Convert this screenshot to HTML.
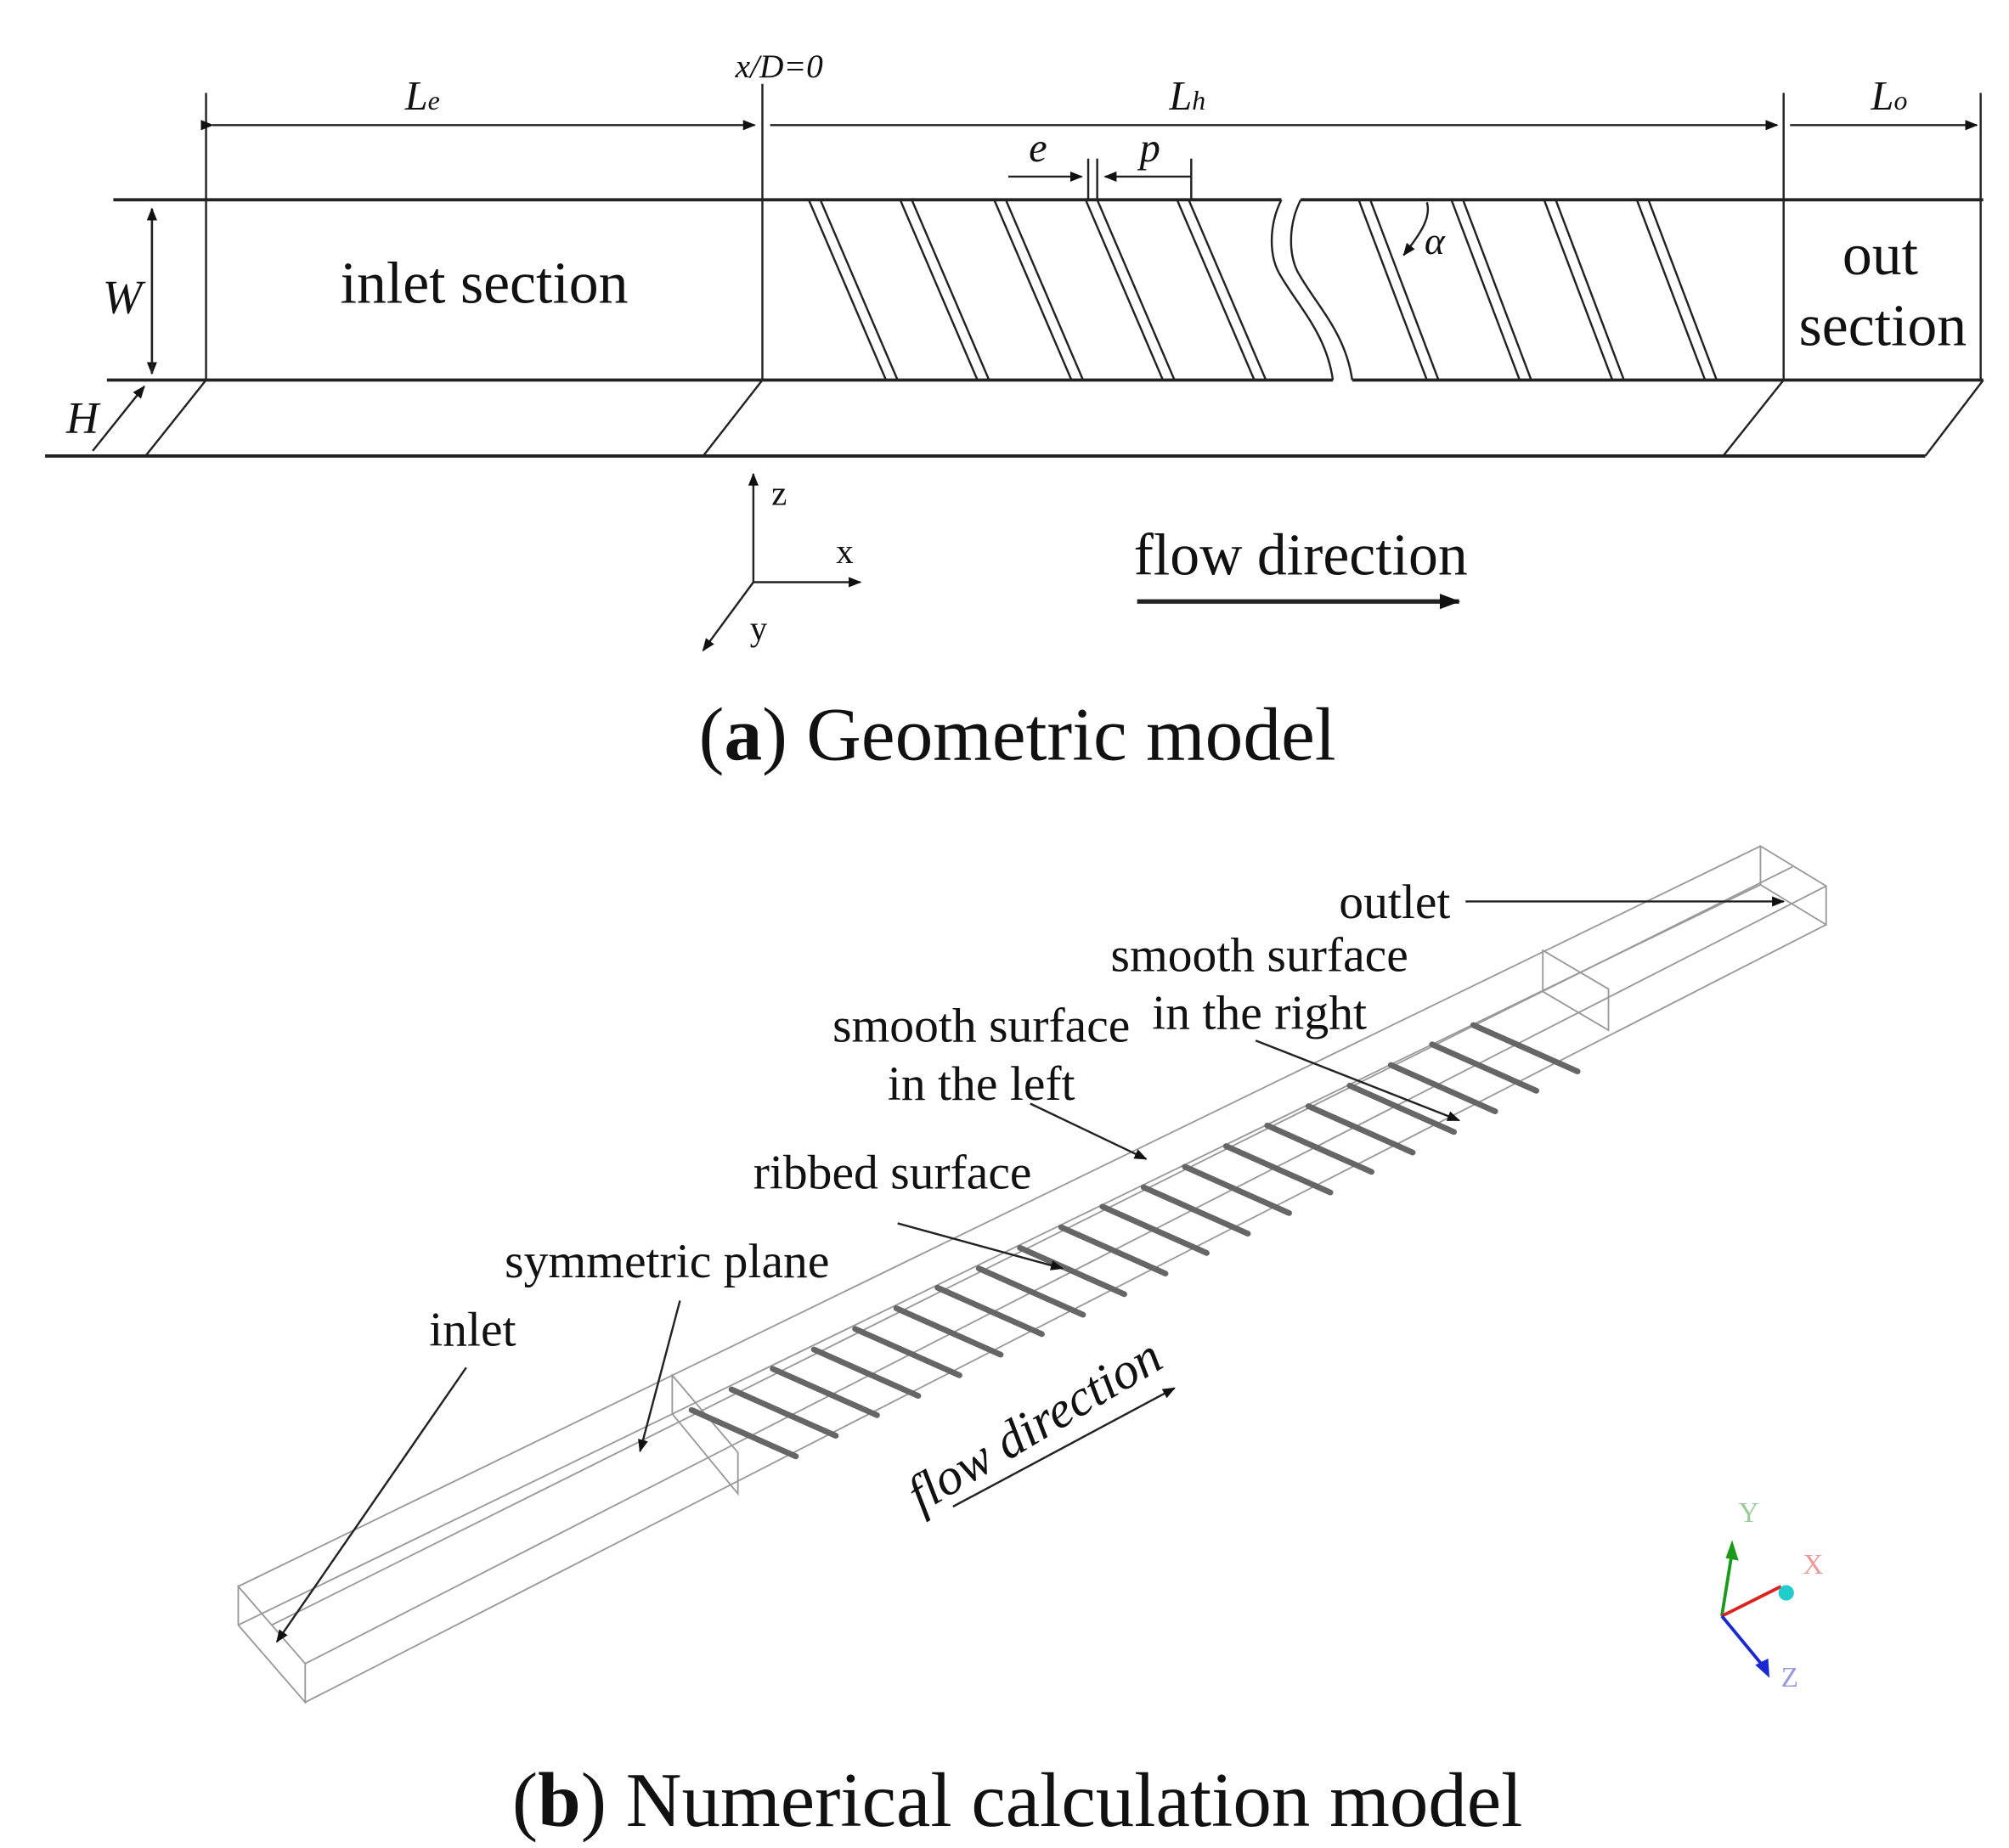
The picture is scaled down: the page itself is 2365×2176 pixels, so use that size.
<!DOCTYPE html>
<html><head><meta charset="utf-8"><style>
html,body{margin:0;padding:0;background:#fff}
svg{display:block}
text{font-family:"Liberation Serif",serif;fill:#111}
</style></head><body>
<svg width="2365" height="2176" viewBox="0 0 1560 1435" xmlns="http://www.w3.org/2000/svg">
<defs>
<marker id="a" markerWidth="10" markerHeight="8" refX="9" refY="4" orient="auto" markerUnits="userSpaceOnUse"><path d="M0,0 L10,4 L0,8 z" fill="#111"/></marker>
<marker id="b" markerWidth="16" markerHeight="12" refX="15" refY="6" orient="auto" markerUnits="userSpaceOnUse"><path d="M0,0 L16,6 L0,12 z" fill="#111"/></marker>
</defs>
<g stroke="#222" stroke-width="2.5" fill="none">
<line x1="88" y1="155" x2="995" y2="155"/><line x1="1010" y1="155" x2="1540" y2="155"/>
<line x1="83" y1="295" x2="1035" y2="295"/><line x1="1050" y1="295" x2="1540" y2="295"/>
<line x1="35" y1="354" x2="1495" y2="354"/>
</g>
<g stroke="#222" stroke-width="1.6" fill="none">
<line x1="160" y1="72" x2="160" y2="295"/><line x1="592" y1="65" x2="592" y2="295"/>
<line x1="1385" y1="72" x2="1385" y2="295"/><line x1="1538" y1="72" x2="1538" y2="295"/>
<line x1="160" y1="295" x2="113" y2="354"/><line x1="592" y1="295" x2="546" y2="354"/>
<line x1="1385" y1="295" x2="1338" y2="354"/><line x1="1540" y1="295" x2="1495" y2="354"/>
<line x1="165" y1="97" x2="586" y2="97" marker-end="url(#a)" marker-start="url(#a)"/>
<line x1="598" y1="97" x2="1380" y2="97" marker-end="url(#a)"/>
<line x1="1390" y1="97" x2="1535" y2="97" marker-end="url(#a)"/>
<line x1="783" y1="137" x2="840" y2="137" marker-end="url(#a)"/>
<line x1="925" y1="137" x2="858" y2="137" marker-end="url(#a)"/>
<line x1="845" y1="123" x2="845" y2="155"/><line x1="852" y1="123" x2="852" y2="155"/><line x1="925" y1="123" x2="925" y2="155"/>
<line x1="118" y1="162" x2="118" y2="290" marker-end="url(#a)"/><line x1="118" y1="290" x2="118" y2="162" marker-end="url(#a)"/>
<line x1="72" y1="350" x2="112" y2="300" marker-end="url(#a)"/>
<path d="M995,155 C985,175 985,200 995,215 C1010,240 1030,260 1035,295"/>
<path d="M1010,155 C1000,175 1000,200 1010,215 C1025,240 1045,260 1050,295"/>
<g>
<line x1="628" y1="155" x2="688" y2="295"/><line x1="637" y1="155" x2="697" y2="295"/>
<line x1="699" y1="155" x2="759" y2="295"/><line x1="708" y1="155" x2="768" y2="295"/>
<line x1="772" y1="155" x2="832" y2="295"/><line x1="781" y1="155" x2="841" y2="295"/>
<line x1="843" y1="155" x2="903" y2="295"/><line x1="852" y1="155" x2="912" y2="295"/>
<line x1="914" y1="155" x2="974" y2="295"/><line x1="923" y1="155" x2="983" y2="295"/>
<line x1="1055" y1="155" x2="1108" y2="295"/><line x1="1064" y1="155" x2="1117" y2="295"/>
<line x1="1127" y1="155" x2="1180" y2="295"/><line x1="1136" y1="155" x2="1189" y2="295"/>
<line x1="1199" y1="155" x2="1252" y2="295"/><line x1="1208" y1="155" x2="1261" y2="295"/>
<line x1="1271" y1="155" x2="1324" y2="295"/><line x1="1280" y1="155" x2="1333" y2="295"/>
</g>
<path d="M1108,157 C1112,170 1100,185 1090,198" marker-end="url(#a)"/>
<line x1="585" y1="452" x2="585" y2="368" marker-end="url(#a)"/>
<line x1="585" y1="452" x2="668" y2="452" marker-end="url(#a)"/>
<line x1="585" y1="452" x2="546" y2="505" marker-end="url(#a)"/>
</g>
<line x1="883" y1="467" x2="1133" y2="467" stroke="#222" stroke-width="3.5" marker-end="url(#b)"/>
<g font-style="italic">
<text x="328" y="85" font-size="32" text-anchor="middle">L<tspan font-size="21">e</tspan></text>
<text x="605" y="60" font-size="26" text-anchor="middle">x/D=0</text>
<text x="922" y="85" font-size="32" text-anchor="middle">L<tspan font-size="21">h</tspan></text>
<text x="1467" y="85" font-size="32" text-anchor="middle">L<tspan font-size="21">o</tspan></text>
<text x="806" y="125" font-size="32" text-anchor="middle">e</text>
<text x="893" y="125" font-size="32" text-anchor="middle">p</text>
<text x="95" y="243" font-size="37" text-anchor="middle">W</text>
<text x="64" y="336" font-size="35" text-anchor="middle">H</text>
<text x="1114" y="197" font-size="30" text-anchor="middle">α</text>
</g>
<text x="376" y="235" font-size="46" text-anchor="middle">inlet section</text>
<text x="1460" y="213" font-size="46" text-anchor="middle">out</text>
<text x="1462" y="268" font-size="46" text-anchor="middle">section</text>
<text x="605" y="392" font-size="27" text-anchor="middle">z</text>
<text x="656" y="437" font-size="27" text-anchor="middle">x</text>
<text x="589" y="497" font-size="27" text-anchor="middle">y</text>
<text x="1010" y="446" font-size="46" text-anchor="middle">flow direction</text>
<text x="790" y="590" font-size="59" text-anchor="middle">(<tspan font-weight="bold">a</tspan>) Geometric model</text>

<g stroke="#999" stroke-width="1.2" fill="none">
<line x1="185" y1="1232" x2="1367" y2="657"/>
<line x1="185" y1="1262" x2="1367" y2="687"/>
<line x1="237" y1="1292" x2="1418" y2="688"/>
<line x1="237" y1="1322" x2="1418" y2="718"/>
<line x1="211" y1="1262" x2="1392" y2="673"/>
<path d="M185,1232 L237,1292 L237,1322 L185,1262 Z"/>
<path d="M1367,657 L1418,688 L1418,718 L1367,687 Z"/>
<path d="M522,1068 L573,1128 L573,1160 L522,1098 Z"/>
<path d="M1198,738 L1249,768 L1249,800 L1198,770 Z"/>
</g>
<g stroke="#666" stroke-width="4.5" stroke-linecap="round">
<line x1="537" y1="1095" x2="618" y2="1131"/><line x1="568" y1="1079" x2="649" y2="1115"/>
<line x1="600" y1="1063" x2="681" y2="1099"/><line x1="632" y1="1048" x2="713" y2="1084"/>
<line x1="664" y1="1032" x2="745" y2="1068"/><line x1="696" y1="1016" x2="777" y2="1052"/>
<line x1="728" y1="1000" x2="809" y2="1036"/><line x1="760" y1="985" x2="841" y2="1021"/>
<line x1="792" y1="969" x2="873" y2="1005"/><line x1="824" y1="953" x2="905" y2="989"/>
<line x1="856" y1="937" x2="937" y2="973"/><line x1="888" y1="922" x2="969" y2="958"/>
<line x1="920" y1="906" x2="1001" y2="942"/><line x1="952" y1="890" x2="1033" y2="926"/>
<line x1="984" y1="874" x2="1065" y2="910"/><line x1="1016" y1="859" x2="1097" y2="895"/>
<line x1="1048" y1="843" x2="1129" y2="879"/><line x1="1080" y1="827" x2="1161" y2="863"/>
<line x1="1112" y1="811" x2="1193" y2="847"/><line x1="1144" y1="796" x2="1225" y2="832"/>
</g>
<g stroke="#222" stroke-width="1.6" fill="none">
<line x1="1138" y1="700" x2="1385" y2="700" marker-end="url(#a)"/>
<line x1="975" y1="808" x2="1133" y2="870" marker-end="url(#a)"/>
<line x1="800" y1="857" x2="890" y2="900" marker-end="url(#a)"/>
<line x1="697" y1="950" x2="825" y2="985" marker-end="url(#a)"/>
<line x1="528" y1="1010" x2="497" y2="1127" marker-end="url(#a)"/>
<line x1="362" y1="1062" x2="215" y2="1275" marker-end="url(#a)"/>
<line x1="740" y1="1170" x2="912" y2="1078" marker-end="url(#a)"/>
</g>
<g font-size="38">
<text x="1083" y="713" text-anchor="middle">outlet</text>
<text x="978" y="754" text-anchor="middle">smooth surface</text>
<text x="978" y="799" text-anchor="middle">in the right</text>
<text x="762" y="809" text-anchor="middle">smooth surface</text>
<text x="762" y="854" text-anchor="middle">in the left</text>
<text x="693" y="923" text-anchor="middle">ribbed surface</text>
<text x="518" y="992" text-anchor="middle">symmetric plane</text>
<text x="367" y="1045" text-anchor="middle">inlet</text>
<text x="0" y="0" text-anchor="middle" font-style="italic" font-size="40" transform="translate(810,1118) rotate(-31)">flow direction</text>
</g>
<g stroke-width="2.5">
<line x1="1337" y1="1255" x2="1345" y2="1205" stroke="#1a9a1a"/><path d="M1340,1210 L1345,1196 L1350,1212 z" fill="#1a9a1a"/>
<line x1="1337" y1="1255" x2="1383" y2="1232" stroke="#d22"/>
<circle cx="1387" cy="1237" r="6" fill="#2cc"/>
<line x1="1337" y1="1255" x2="1370" y2="1295" stroke="#1a2ad0"/><path d="M1363,1293 L1374,1303 L1373,1288 z" fill="#1a2ad0"/>
</g>
<text x="1350" y="1182" font-size="22" style="fill:#9c9">Y</text>
<text x="1400" y="1222" font-size="22" style="fill:#e99">X</text>
<text x="1383" y="1310" font-size="22" style="fill:#99d">Z</text>
<text x="790" y="1418" font-size="60" text-anchor="middle">(<tspan font-weight="bold">b</tspan>) Numerical calculation model</text>
</svg>
</body></html>
